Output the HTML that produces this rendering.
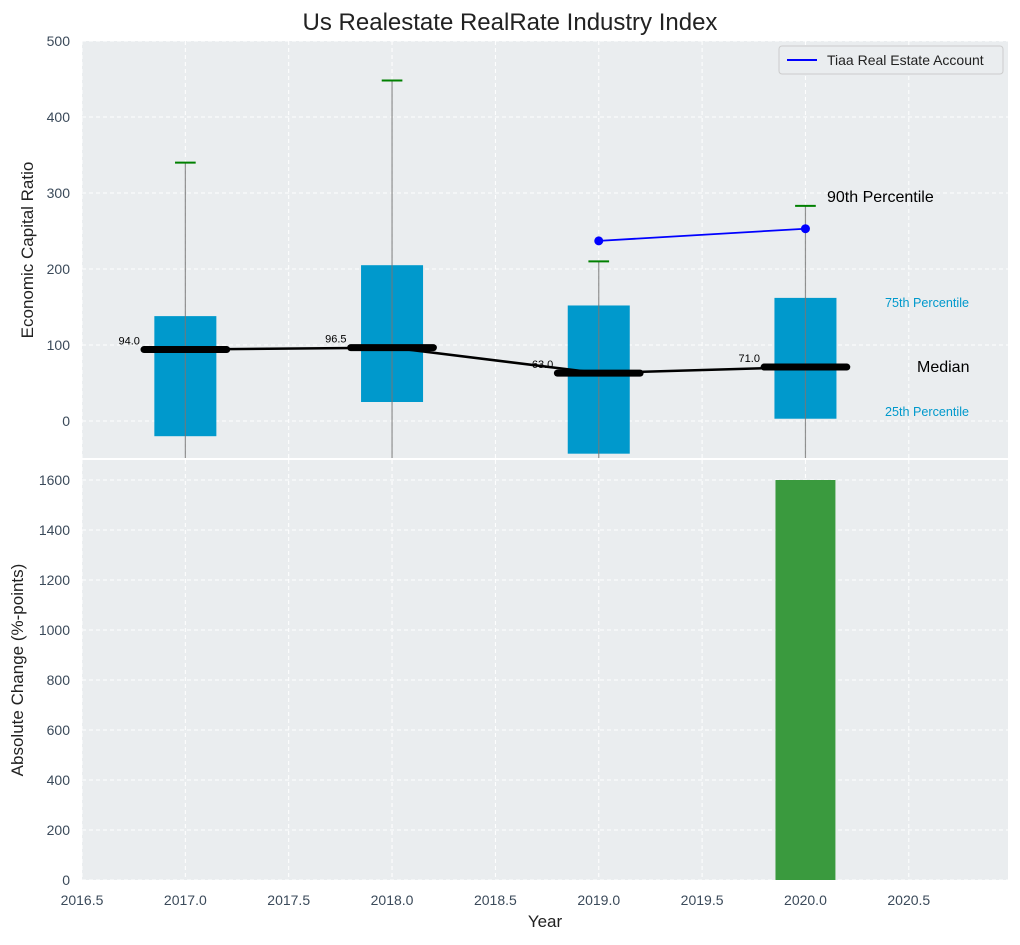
<!DOCTYPE html>
<html><head><meta charset="utf-8"><style>
body{margin:0;background:#fff;font-family:"Liberation Sans",sans-serif}
svg text{font-family:"Liberation Sans",sans-serif}
</style></head><body>
<svg id="c" width="1020" height="940" xmlns="http://www.w3.org/2000/svg"></svg>
<script>
const years=[2017,2018,2019,2020];
const q25=[-20,25,-43,3];
const q75=[138,205,152,162];
const p90=[340,448,210,283];
const medians=[94,96.5,63,71];
const tiaaYears=[2019,2020];
const tiaaVals=[237,253];
const changeYears=[2020];
const changeVals=[1600];
const xTicks=[2016.5,2017.0,2017.5,2018.0,2018.5,2019.0,2019.5,2020.0,2020.5];
const yTopTicks=[0,100,200,300,400,500];
const yBotTicks=[0,200,400,600,800,1000,1200,1400,1600];

const NS="http://www.w3.org/2000/svg";
const svg=document.getElementById('c');
function el(t,a,txt){const e=document.createElementNS(NS,t);for(const k in a)e.setAttribute(k,a[k]);if(txt!==undefined)e.textContent=txt;svg.appendChild(e);return e;}
const L=82,R=1008;
const X=v=>L+(v-2016.5)*206.7;
const T1=41,B1=458,Y1=v=>421-v*0.76;
const T2=460,B2=880,Y2=v=>880-v*0.25;

let e;
e=el('rect',{x:L,y:T1,width:R-L,height:B1-T1,fill:'#eaedef'});

e=el('rect',{x:L,y:T2,width:R-L,height:B2-T2,fill:'#eaedef'});

xTicks.forEach(t=>{
 el('line',{x1:X(t),x2:X(t),y1:T1,y2:B1,stroke:'#fff','stroke-dasharray':'4,3','stroke-width':1});
 el('line',{x1:X(t),x2:X(t),y1:T2,y2:B2,stroke:'#fff','stroke-dasharray':'4,3','stroke-width':1});
 e=el('text',{x:X(t),y:905,'text-anchor':'middle','font-size':14,fill:'#3b4a5a'},t.toFixed(1));
 
});
yTopTicks.forEach(t=>{
 el('line',{x1:L,x2:R,y1:Y1(t),y2:Y1(t),stroke:'#fff','stroke-dasharray':'4,3'});
 e=el('text',{x:70,y:Y1(t)+5,'text-anchor':'end','font-size':14,fill:'#3b4a5a'},t);
 
});
yBotTicks.forEach(t=>{
 el('line',{x1:L,x2:R,y1:Y2(t),y2:Y2(t),stroke:'#fff','stroke-dasharray':'4,3'});
 e=el('text',{x:70,y:Y2(t)+5,'text-anchor':'end','font-size':14,fill:'#3b4a5a'},t);
 
});
years.forEach((y,i)=>{
 e=el('rect',{x:X(y-0.15),y:Y1(q75[i]),width:X(y+0.15)-X(y-0.15),height:Y1(q25[i])-Y1(q75[i]),fill:'#0099cc'});
 
 e=el('line',{x1:X(y),x2:X(y),y1:Y1(p90[i]),y2:B1,stroke:'#777','stroke-width':1.2,opacity:0.8});
 
 e=el('line',{x1:X(y-0.05),x2:X(y+0.05),y1:Y1(p90[i]),y2:Y1(p90[i]),stroke:'green','stroke-width':2});
 
});
e=el('polyline',{points:years.map((y,i)=>X(y)+','+Y1(medians[i])).join(' '),fill:'none',stroke:'#000','stroke-width':2.5});

years.forEach((y,i)=>{
 e=el('line',{x1:X(y-0.2),x2:X(y+0.2),y1:Y1(medians[i]),y2:Y1(medians[i]),stroke:'#000','stroke-width':7,'stroke-linecap':'round'});
 
 e=el('text',{x:X(y-0.22),y:Y1(medians[i])-5,'text-anchor':'end','font-size':11,fill:'#000'},medians[i].toFixed(1));
 
});
e=el('polyline',{points:tiaaYears.map((y,i)=>X(y)+','+Y1(tiaaVals[i])).join(' '),fill:'none',stroke:'blue','stroke-width':1.8});

tiaaYears.forEach((y,i)=>{e=el('circle',{cx:X(y),cy:Y1(tiaaVals[i]),r:4.5,fill:'blue'});
 });
e=el('text',{x:827,y:202,'font-size':16,fill:'#000'},'90th Percentile');
e=el('text',{x:885,y:307,'font-size':12.6,fill:'#0099cc'},'75th Percentile');
e=el('text',{x:917,y:372,'font-size':16,fill:'#000'},'Median');
e=el('text',{x:885,y:416,'font-size':12.6,fill:'#0099cc'},'25th Percentile');
changeYears.forEach((y,i)=>{e=el('rect',{x:X(y-0.145),y:Y2(changeVals[i]),width:X(y+0.145)-X(y-0.145),height:Y2(0)-Y2(changeVals[i]),fill:'#3a9a3e'});
 });
e=el('rect',{x:779,y:46,width:224,height:28,fill:'#eaedef',stroke:'#ccc',rx:3});
el('line',{x1:787,x2:817,y1:60,y2:60,stroke:'blue','stroke-width':2});
e=el('text',{x:827,y:65,'font-size':14,fill:'#222'},'Tiaa Real Estate Account');
e=el('text',{x:510,y:30,'text-anchor':'middle','font-size':24,fill:'#222'},'Us Realestate RealRate Industry Index');
e=el('text',{x:545,y:927,'text-anchor':'middle','font-size':17,fill:'#222'},'Year');
e=el('text',{x:33,y:250,'text-anchor':'middle','font-size':17,fill:'#222',transform:'rotate(-90 33 250)'},'Economic Capital Ratio');
e=el('text',{x:23,y:670,'text-anchor':'middle','font-size':17,fill:'#222',transform:'rotate(-90 23 670)'},'Absolute Change (%-points)');
</script></body></html>
